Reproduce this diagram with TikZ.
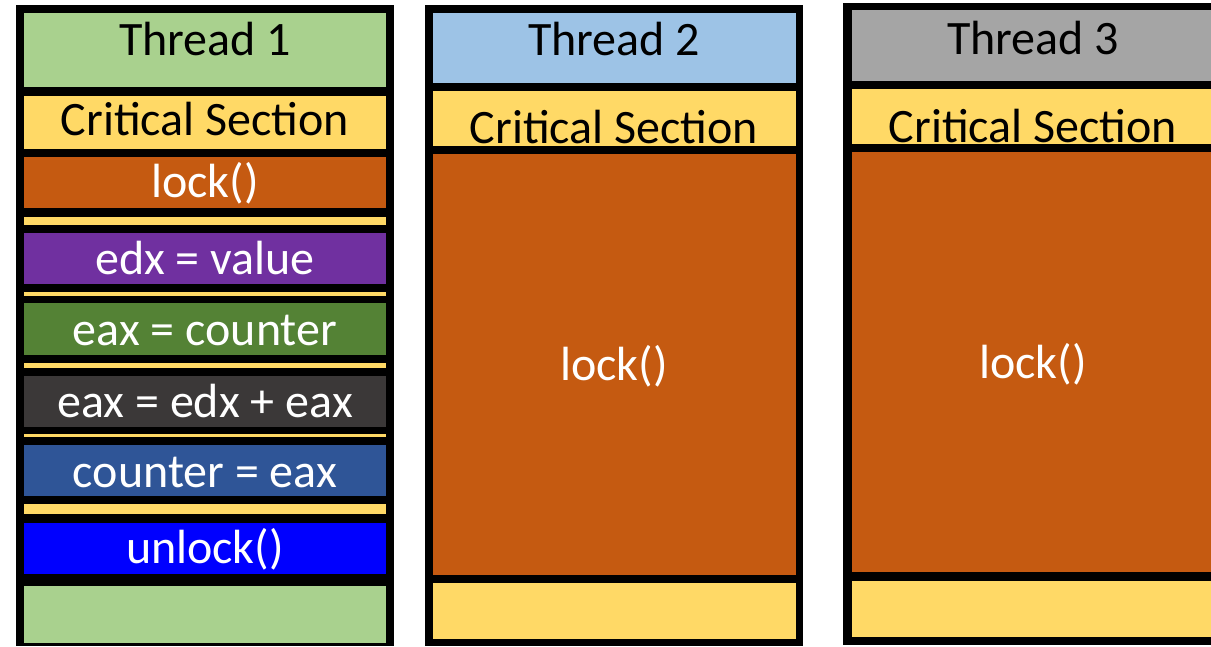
\documentclass[tikz,border=0pt]{standalone}
\usepackage{fontspec}
\setmainfont{Carlito}
\usepackage{tikz}

\definecolor{thgreen}{HTML}{A9D18E}
\definecolor{thblue}{HTML}{9DC3E6}
\definecolor{thgray}{HTML}{A5A5A5}
\definecolor{csyellow}{HTML}{FFD966}
\definecolor{lockorange}{HTML}{C55A11}
\definecolor{oppurple}{HTML}{7030A0}
\definecolor{opgreen}{HTML}{548235}
\definecolor{opdark}{HTML}{3B3838}
\definecolor{opblue}{HTML}{2F5597}
\definecolor{unlockblue}{HTML}{0000FF}

\tikzset{
  lbl/.style={anchor=base, inner sep=0pt, font=\fontsize{48}{56}\selectfont},
  wlbl/.style={lbl, text=white}
}

\begin{document}
\begin{tikzpicture}[x=1pt,y=-1pt]
\useasboundingbox (0,0) rectangle (1211,646);
\clip (0,0) rectangle (1211,646);

% thread 1
\fill[black] (16,5) rectangle (394,646);
\foreach \top/\bot/\col in {13/87/thgreen, 96/149/csyellow, 157/208/lockorange,
    217/225/csyellow, 233/284/oppurple, 292/296/csyellow, 303/355/opgreen,
    363/368/csyellow, 376/427/opdark, 434/437/csyellow, 445/496/opblue,
    504/514/csyellow, 523/574/unlockblue, 586/643/thgreen} {
  \fill[\col] (24,\top) rectangle (386,\bot);
}
\node[lbl] (t1) at (205,55) {Thread 1};
\node[lbl] (cs1) at (205,135) {Critical Section};
\node[wlbl] (lock1) at (205,197) {lock()};
\node[wlbl] (op1) at (205,274) {edx = value};
\node[wlbl] (op2) at (205,345) {eax = counter};
\node[wlbl] (op3) at (205,417) {eax = edx + eax};
\node[wlbl] (op4) at (205,487) {counter = eax};
\node[wlbl] (unlock1) at (205,563) {unlock()};

% thread 2
\fill[black] (425,5) rectangle (803,646);
\foreach \top/\bot/\col in {13/83/thblue, 91/146/csyellow, 154/575/lockorange,
    583/639/csyellow} {
  \fill[\col] (433,\top) rectangle (796,\bot);
}
\node[lbl] (t2) at (614,55) {Thread 2};
\node[lbl] (cs2) at (614,143) {Critical Section};
\node[wlbl] (lock2) at (614,380) {lock()};

% thread 3
\fill[black] (843,3) rectangle (1224,645);
\foreach \top/\bot/\col in {10/81/thgray, 89/144/csyellow, 152/572/lockorange,
    581/637/csyellow} {
  \fill[\col] (852,\top) rectangle (1215,\bot);
}
\node[lbl] (t3) at (1033,54) {Thread 3};
\node[lbl] (cs3) at (1033,142) {Critical Section};
\node[wlbl] (lock3) at (1033,378) {lock()};

\end{tikzpicture}
\end{document}
